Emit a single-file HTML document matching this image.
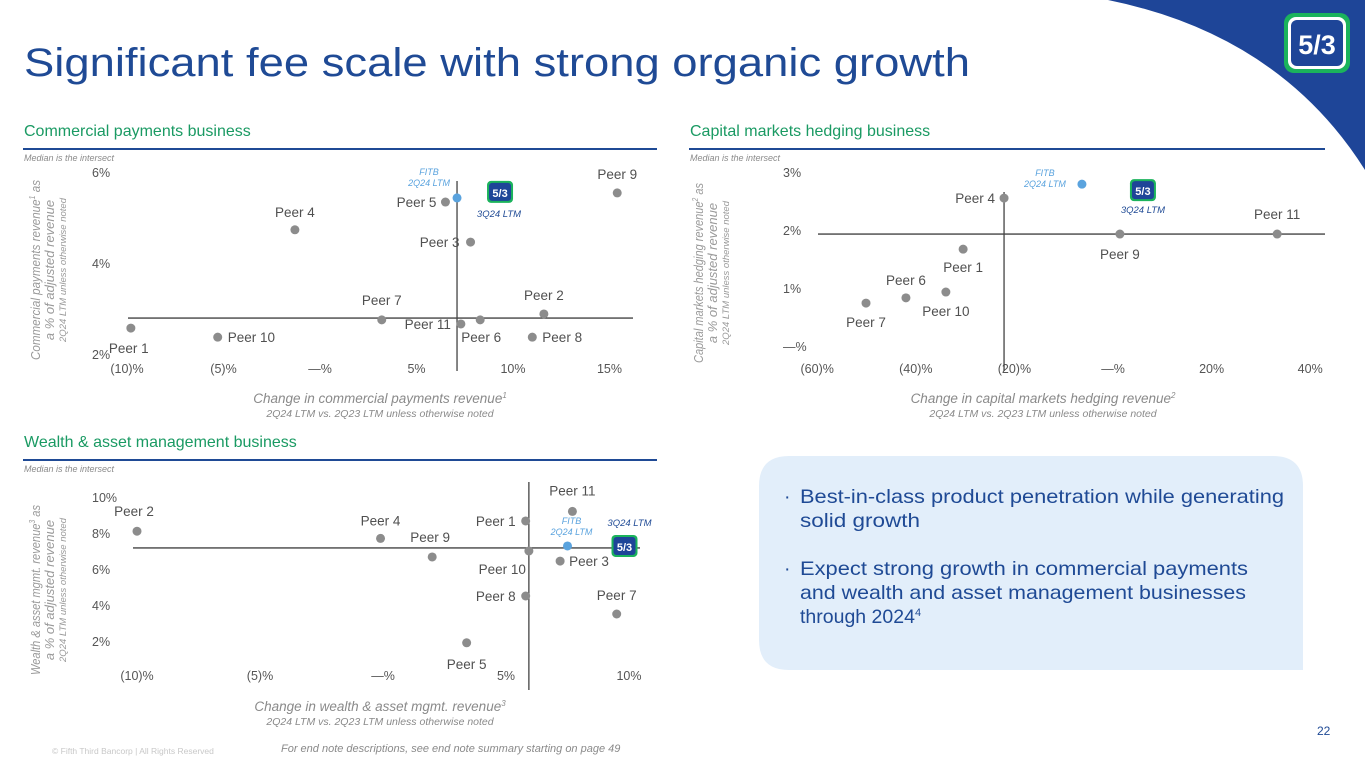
<!DOCTYPE html>
<html><head><meta charset="utf-8"><title>Significant fee scale with strong organic growth</title>
<style>
html,body{margin:0;padding:0;background:#fff;}
svg{display:block;font-family:"Liberation Sans",sans-serif;}
</style></head>
<body>
<svg id="page" width="1365" height="768" viewBox="0 0 1365 768" xmlns="http://www.w3.org/2000/svg">
  <path d="M1108,0 Q1280,35 1365,170 L1365,0 Z" fill="#1e4598"/>
  <g>
    <rect x="1284" y="13" width="66" height="60" rx="10" fill="#1bb35c"/>
    <rect x="1288" y="17" width="58" height="52" rx="8" fill="#fff"/>
    <rect x="1291" y="20" width="52" height="46" rx="6" fill="#1e4598"/>
    <text x="1317" y="54" text-anchor="middle" font-size="27" font-weight="bold" fill="#fff">5/3</text>
  </g>
  <text x="24" y="76" font-size="40" fill="#1f4a95" textLength="946" lengthAdjust="spacingAndGlyphs">Significant fee scale with strong organic growth</text>

  <g id="c1"></g>
  <g id="c2"></g>
  <g id="c3"></g>

  <g>
    <path d="M789,456 L1273,456 Q1303,456 1303,486 L1303,670 L789,670 Q759,670 759,640 L759,486 Q759,456 789,456 Z" fill="#e2eefa"/>
    <g font-size="19.5" fill="#1f4a95">
      <text x="784" y="503">·</text>
      <text x="800" y="503" textLength="484" lengthAdjust="spacingAndGlyphs">Best-in-class product penetration while generating</text>
      <text x="800" y="527" textLength="120" lengthAdjust="spacingAndGlyphs">solid growth</text>
      <text x="784" y="575">·</text>
      <text x="800" y="575" textLength="448" lengthAdjust="spacingAndGlyphs">Expect strong growth in commercial payments</text>
      <text x="800" y="599" textLength="446" lengthAdjust="spacingAndGlyphs">and wealth and asset management businesses</text>
      <text x="800" y="623">through 2024<tspan dy="-7" font-size="11">4</tspan></text>
    </g>
  </g>
  <text x="1317" y="735" font-size="12" fill="#1f4a95">22</text>
  <text x="52" y="754" font-size="8.5" fill="#c8c8c8">© Fifth Third Bancorp | All Rights Reserved</text>
  <text x="281" y="752" font-size="11" font-style="italic" fill="#8a8a8a">For end note descriptions, see end note summary starting on page 49</text>
</svg>
<script>
// ---------- Chart 1: Commercial payments ----------
const c1Names = ["Peer 1","Peer 10","Peer 4","Peer 7","Peer 5","Peer 3","Peer 11","Peer 6","Peer 2","Peer 8","Peer 9"];
const c1X = [-9.8,-5.3,-1.3,3.2,6.5,7.8,7.3,8.3,11.6,11.0,15.4];
const c1Y = [2.57,2.37,4.73,2.75,5.34,4.46,2.66,2.75,2.88,2.37,5.54];
const c1Fitb = [7.1,5.43];
const c1Median = [7.1,2.79];
const c1XTicks = [-10,-5,0,5,10,15];
const c1XTickLabels = ["(10)%","(5)%","—%","5%","10%","15%"];
const c1YTicks = [6,4,2];
const c1YTickLabels = ["6%","4%","2%"];

// ---------- Chart 2: Capital markets hedging ----------
const c2Names = ["Peer 4","Peer 11","Peer 9","Peer 1","Peer 6","Peer 10","Peer 7"];
const c2X = [-22.1,33.3,1.4,-30.4,-42,-33.9,-50.1];
const c2Y = [2.55,1.93,1.93,1.67,0.83,0.93,0.74];
const c2Fitb = [-6.3,2.79];
const c2Median = [-22.1,1.93];
const c2XTicks = [-60,-40,-20,0,20,40];
const c2XTickLabels = ["(60)%","(40)%","(20)%","—%","20%","40%"];
const c2YTicks = [3,2,1,0];
const c2YTickLabels = ["3%","2%","1%","—%"];

// ---------- Chart 3: Wealth & asset management ----------
const c3Names = ["Peer 2","Peer 4","Peer 9","Peer 1","Peer 11","Peer 10","Peer 3","Peer 8","Peer 7","Peer 5"];
const c3X = [-10.0,-0.1,2.0,5.8,7.7,5.93,7.2,5.8,9.5,3.4];
const c3Y = [8.1,7.7,6.67,8.67,9.2,7.0,6.44,4.5,3.5,1.9];
const c3Fitb = [7.5,7.28];
const c3Median = [5.93,7.17];
const c3XTicks = [-10,-5,0,5,10];
const c3XTickLabels = ["(10)%","(5)%","—%","5%","10%"];
const c3YTicks = [10,8,6,4,2];
const c3YTickLabels = ["10%","8%","6%","4%","2%"];

const NS = "http://www.w3.org/2000/svg";
function mk(tag, attrs, parent, txt){
  const e = document.createElementNS(NS, tag);
  for (const k in attrs) e.setAttribute(k, attrs[k]);
  if (txt !== undefined) e.textContent = txt;
  parent.appendChild(e);
  return e;
}

// label placements (layout only): [anchor, dx, dy]
const c1Lab = [["start",-22,25],["start",10,5],["middle",0,-13],["middle",0,-15],["end",-9,5],["end",-11,5],["end",-10,5],["middle",1,22],["middle",0,-14],["start",10,5],["middle",0,-14]];
const c2Lab = [["end",-9,5],["middle",0,-15],["middle",0,25],["middle",0,23],["middle",0,-13],["middle",0,24],["middle",0,24]];
const c3Lab = [["middle",-3,-15],["middle",0,-13],["start",-22,-15],["end",-10,5],["middle",0,-16],["end",-3,23],["start",9,5],["end",-10,5],["middle",0,-14],["middle",0,26]];

function drawChart(cfg){
  const g = document.getElementById(cfg.id);
  const xs = v => cfg.x0 + v*cfg.xk;
  const ys = v => cfg.y0 - v*cfg.yk;
  const h = mk("text",{x:cfg.hx,y:cfg.hy,"font-size":16,fill:"#1a9a63"},g,cfg.title);
  
  
  const r = mk("rect",{x:cfg.hx-1,y:cfg.hy+12,width:cfg.rw,height:2,fill:"#1f4a95"},g);
  
  
  const m = mk("text",{x:cfg.hx,y:cfg.hy+25,"font-size":9,"font-style":"italic",fill:"#8a8a8a"},g,"Median is the intersect");
  
  
  const yt = mk("g",{transform:"translate("+cfg.ytx+","+cfg.yty+") rotate(-90)"},g);
  
  
  const t1 = mk("text",{x:0,y:0,"text-anchor":"middle","font-size":13,"font-style":"italic",fill:"#9a9a9a",textLength:cfg.ytl1,lengthAdjust:"spacingAndGlyphs"},yt,cfg.ytitle);
  mk("tspan",{dy:-5,"font-size":8},t1,cfg.sup);
  mk("tspan",{dy:5},t1," as");
  mk("text",{x:0,y:14,"text-anchor":"middle","font-size":13,"font-style":"italic",fill:"#9a9a9a"},yt,"a % of adjusted revenue");
  mk("text",{x:0,y:26,"text-anchor":"middle","font-size":9.5,"font-style":"italic",fill:"#9a9a9a"},yt,"2Q24 LTM unless otherwise noted");
  cfg.xt.forEach((v,i)=>{
    const t = mk("text",{x:xs(v),y:cfg.xly,"text-anchor":"middle","font-size":12.5,fill:"#555"},g,cfg.xtl[i]);
    
    
  });
  cfg.yt.forEach((v,i)=>{
    const t = mk("text",{x:cfg.ylx,y:ys(v)+5,"font-size":12.5,fill:"#555"},g,cfg.ytl[i]);
    
    
  });
  const xt = mk("text",{x:cfg.xtx,y:cfg.xty,"text-anchor":"middle","font-size":13.5,"font-style":"italic",fill:"#8a8a8a"},g,cfg.xtitle);
  
  
  mk("tspan",{dy:-5,"font-size":8},xt,cfg.sup);
  const xs2 = mk("text",{x:cfg.xtx,y:cfg.xty+14,"text-anchor":"middle","font-size":10.5,"font-style":"italic",fill:"#8a8a8a"},g,"2Q24 LTM vs. 2Q23 LTM unless otherwise noted");
  
  
  const hl = mk("line",{x1:cfg.hl[0],x2:cfg.hl[1],y1:ys(cfg.med[1]),y2:ys(cfg.med[1]),stroke:"#444","stroke-width":1.3},g);
  
  
  const vl = mk("line",{x1:xs(cfg.med[0]),x2:xs(cfg.med[0]),y1:cfg.vl[0],y2:cfg.vl[1],stroke:"#444","stroke-width":1.3},g);
  
  
  cfg.names.forEach((n,i)=>{
    const px = xs(cfg.xv[i]), py = ys(cfg.yv[i]);
    const c = mk("circle",{cx:px,cy:py,r:4.5,fill:"#8c8c8c"},g);
    
    
    const L = cfg.lab[i];
    const t = mk("text",{x:px+L[1],y:py+L[2],"text-anchor":L[0],"font-size":13.5,fill:"#505050"},g,n);
    
    
  });
  const fx = xs(cfg.fitb[0]), fy = ys(cfg.fitb[1]);
  const fc = mk("circle",{cx:fx,cy:fy,r:4.5,fill:"#5aa3de"},g);
  
  
  const fl = mk("text",{x:fx+cfg.fl[0],y:fy+cfg.fl[1],"text-anchor":"middle","font-size":9,"font-style":"italic",fill:"#5aa3de"},g,"FITB");
  
  
  mk("text",{x:fx+cfg.fl[0],y:fy+cfg.fl[1]+11,"text-anchor":"middle","font-size":9,"font-style":"italic",fill:"#5aa3de"},g,"2Q24 LTM");
  const lg = mk("g",{transform:"translate("+(fx+cfg.lg[0])+","+(fy+cfg.lg[1])+")"},g);
  
  
  mk("rect",{x:-13,y:-11,width:26,height:22,rx:4,fill:"#1bb35c"},lg);
  mk("rect",{x:-11,y:-9,width:22,height:18,rx:3,fill:"#1e4598"},lg);
  mk("text",{x:0,y:5,"text-anchor":"middle","font-size":11,"font-weight":"bold",fill:"#fff"},lg,"5/3");
  const ll = mk("text",{x:fx+cfg.ll[0],y:fy+cfg.ll[1],"text-anchor":"middle","font-size":9.5,"font-style":"italic",fill:"#1f4a95"},g,"3Q24 LTM");
  
  
}

drawChart({id:"c1",title:"Commercial payments business",hx:24,hy:136,rw:634,
  x0:320,xk:19.3,y0:263+4*45.5,yk:45.5,names:c1Names,xv:c1X,yv:c1Y,lab:c1Lab,fitb:c1Fitb,med:c1Median,
  xt:c1XTicks,xtl:c1XTickLabels,yt:c1YTicks,ytl:c1YTickLabels,xly:373,ylx:92,
  hl:[128,633],vl:[181,371],fl:[-28,-23],lg:[43,-6],ll:[42,19],
  ytitle:"Commercial payments revenue",ytl1:180,sup:"1",ytx:40,yty:270,
  xtitle:"Change in commercial payments revenue",xtx:380,xty:403});
drawChart({id:"c2",title:"Capital markets hedging business",hx:690,hy:136,rw:636,
  x0:1113,xk:4.93,y0:346,yk:58,names:c2Names,xv:c2X,yv:c2Y,lab:c2Lab,fitb:c2Fitb,med:c2Median,
  xt:c2XTicks,xtl:c2XTickLabels,yt:c2YTicks,ytl:c2YTickLabels,xly:373,ylx:783,
  hl:[818,1325],vl:[192,371],fl:[-37,-8],lg:[61,6],ll:[61,29],
  ytitle:"Capital markets hedging revenue",ytl1:180,sup:"2",ytx:703,yty:273,
  xtitle:"Change in capital markets hedging revenue",xtx:1043,xty:403});
drawChart({id:"c3",title:"Wealth & asset management business",hx:24,hy:447,rw:634,
  x0:383,xk:24.6,y0:641+2*18,yk:18,names:c3Names,xv:c3X,yv:c3Y,lab:c3Lab,fitb:c3Fitb,med:c3Median,
  xt:c3XTicks,xtl:c3XTickLabels,yt:c3YTicks,ytl:c3YTickLabels,xly:680,ylx:92,
  hl:[133,640],vl:[482,690],fl:[4,-22],lg:[57,0],ll:[62,-20],
  ytitle:"Wealth & asset mgmt. revenue",ytl1:170,sup:"3",ytx:40,yty:590,
  xtitle:"Change in wealth & asset mgmt. revenue",xtx:380,xty:711});
</script>
</body></html>
